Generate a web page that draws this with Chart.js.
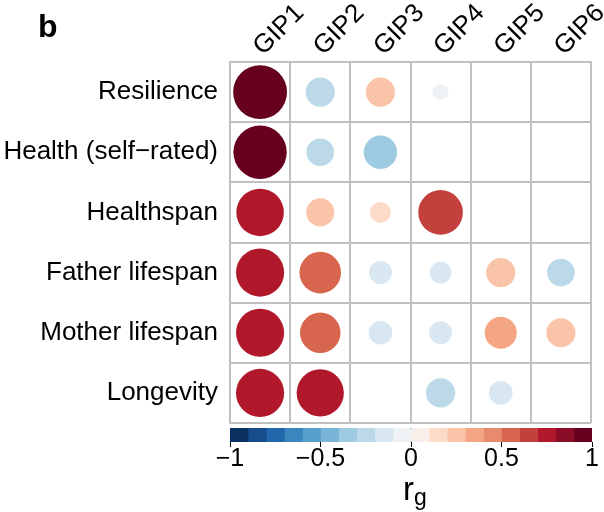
<!DOCTYPE html>
<html>
<head>
<meta charset="utf-8">
<script src="https://cdn.jsdelivr.net/npm/chart.js@4/dist/chart.umd.min.js"></script>
<style>
  body { margin: 0; background: #fff; }
  #wrap { position: relative; width: 604px; height: 512px; overflow: hidden; font-family: "Liberation Sans", Arial, sans-serif; color: #000; }
  #main { position: absolute; left: 0; top: 0; }
  #bar { position: absolute; left: 0; top: 425px; }
  #panel { position: absolute; left: 38px; top: 10px; font-weight: bold; font-size: 32px; line-height: 32px; }
  #rg { position: absolute; left: 403px; top: 472px; font-size: 33px; line-height: 33px; white-space: nowrap; }
  #rg sub { font-size: 23px; line-height: 0; vertical-align: -5px; }
</style>
</head>
<body>
<div id="wrap">
  <canvas id="main" width="604" height="425"></canvas>
  <canvas id="bar" width="604" height="87"></canvas>
  <div id="panel">b</div>
  <div id="rg">r<sub>g</sub></div>
</div>
<script>
// ---- data ----
const gips = ['GIP1', 'GIP2', 'GIP3', 'GIP4', 'GIP5', 'GIP6'];
const traits = ['Resilience', 'Health (self\u2212rated)', 'Healthspan', 'Father lifespan', 'Mother lifespan', 'Longevity'];
const resilience      = [0.99, -0.29,  0.29, -0.09,  null,  null];
const healthSelfRated = [0.97, -0.26, -0.38,  null,  null,  null];
const healthspan      = [0.77,  0.27,  0.15,  0.68,  null,  null];
const fatherLifespan  = [0.79,  0.59, -0.18, -0.16,  0.29, -0.26];
const motherLifespan  = [0.79,  0.56, -0.19, -0.18,  0.35,  0.29];
const longevity       = [0.79,  0.76,  null, -0.29, -0.19,  null];
const colorTicks = [-1, -0.5, 0, 0.5, 1];
const palette = ['#0A3162','#164D8A','#2367AC','#3A87BE','#559FCB','#78B5D7','#9ECBE2','#BCD9EA','#D8E7F1','#EEF2F5',
                 '#F9EFEA','#FCDBC8','#FAC4A9','#F4A684','#E88A6C','#D8664F','#C4403D','#B2182B','#8B0C26','#67001F'];

// ---- build ----
const rows = [resilience, healthSelfRated, healthspan, fatherLifespan, motherLifespan, longevity];
const points = [];
rows.forEach((row, i) => row.forEach((v, j) => {
  if (v !== null) points.push({ x: gips[j], y: traits[i], v: v });
}));
const lo = colorTicks[0], hi = colorTicks[colorTicks.length - 1];
function colorFor(v) {
  const k = Math.floor((v - lo) / (hi - lo) * palette.length);
  return palette[Math.max(0, Math.min(palette.length - 1, k))];
}
const FONT = '"Liberation Sans", Arial, sans-serif';
const GRID = '#C0C0C0';

new Chart(document.getElementById('main'), {
  type: 'scatter',
  data: {
    datasets: [{
      data: points,
      showLine: false,
      pointBackgroundColor: ctx => (ctx.raw && ctx.raw.v !== undefined) ? colorFor(ctx.raw.v) : '#000',
      pointBorderWidth: 0,
      pointRadius: ctx => {
        if (!ctx.raw || ctx.raw.v === undefined) return 0;
        const s = ctx.chart.scales.x;
        return 0.45 * ((s.right - s.left) / gips.length) * Math.sqrt(Math.abs(ctx.raw.v));
      },
      clip: false
    }]
  },
  options: {
    responsive: false,
    animation: false,
    events: [],
    layout: { padding: { left: 0, right: 13, top: 0, bottom: 2 } },
    plugins: { legend: { display: false }, tooltip: { enabled: false } },
    scales: {
      x: {
        type: 'category', labels: gips, position: 'top', offset: true,
        grid: { offset: true, color: GRID, lineWidth: 2, drawTicks: false },
        border: { color: GRID, width: 2 },
        ticks: { color: '#000', font: { family: FONT, size: 26 }, minRotation: 45, maxRotation: 45,
                 padding: 0, labelOffset: 20, autoSkip: false },
        afterFit: s => { s.height = 62; s.paddingLeft = 0; s.paddingRight = 0; }
      },
      y: {
        type: 'category', labels: traits, position: 'left', offset: true,
        grid: { offset: true, color: GRID, lineWidth: 2, drawTicks: false },
        border: { color: GRID, width: 2 },
        ticks: { color: '#000', font: { family: FONT, size: 26 }, padding: 12, autoSkip: false },
        afterFit: s => { s.width = 230; s.paddingTop = 0; s.paddingBottom = 0; }
      }
    }
  }
});

const bins = palette.map((c, i) => [lo + (hi - lo) * i / palette.length, lo + (hi - lo) * (i + 1) / palette.length]);
const barDatasets = palette.map((c, i) => ({
  data: [bins[i]], backgroundColor: c, borderWidth: 0,
  barPercentage: 1, categoryPercentage: 1, grouped: false
}));
barDatasets.push({
  data: [[lo, hi]], backgroundColor: 'rgba(0,0,0,0)', borderColor: '#000', borderWidth: 1,
  borderSkipped: false, barPercentage: 1, categoryPercentage: 1, grouped: false
});

new Chart(document.getElementById('bar'), {
  type: 'bar',
  data: { labels: ['rg'], datasets: barDatasets },
  options: {
    indexAxis: 'y',
    responsive: false,
    animation: false,
    events: [],
    layout: { padding: { left: 230, right: 12, top: 3, bottom: 0 } },
    plugins: { legend: { display: false }, tooltip: { enabled: false } },
    scales: {
      x: {
        type: 'linear', min: lo, max: hi,
        afterBuildTicks: s => { s.ticks = colorTicks.map(v => ({ value: v })); },
        grid: { drawOnChartArea: false, drawTicks: true, tickLength: 5, color: '#000', lineWidth: 1 },
        border: { display: false },
        ticks: { color: '#000', font: { family: FONT, size: 25, lineHeight: 1 }, padding: 0,
                 callback: v => (v < 0 ? '\u2212' + Math.abs(v) : String(v)) },
        afterFit: s => { s.height = 70; }
      },
      y: { display: false }
    }
  }
});
</script>
</body>
</html>
